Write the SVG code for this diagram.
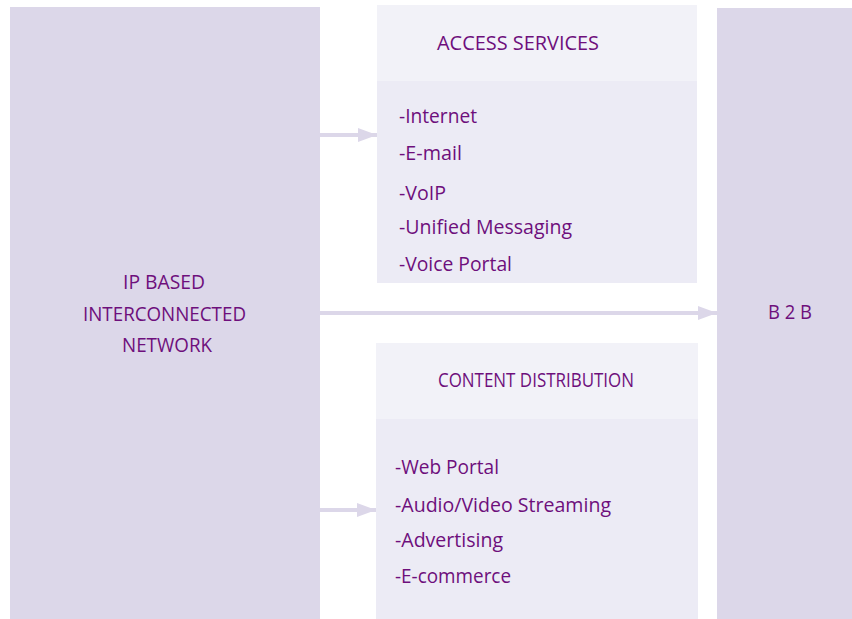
<svg xmlns="http://www.w3.org/2000/svg" width="852" height="619" viewBox="0 0 852 619">
<defs>
<style>
.big{fill:#dcd7e9}
.hdr{fill:#f2f2f8}
.body{fill:#ecebf5}
text{font-family:"Open Sans","Noto Sans","Liberation Sans",sans-serif;font-size:20px;font-weight:500;fill:#6e0f7c}
.conn line{stroke:#dcd7e9;stroke-width:4}
</style>
<marker id="ah" viewBox="0 0 19 14" refX="19" refY="7" markerWidth="19" markerHeight="14" markerUnits="userSpaceOnUse" orient="auto">
<path d="M0,0 L19,7 L0,14 Z" fill="#dcd7e9"/>
</marker>
</defs>
<rect width="852" height="619" fill="#ffffff"/>
<g id="ip-network">
<rect class="big" x="10" y="7" width="310" height="612"/>
<text x="123" y="289" textLength="82" lengthAdjust="spacingAndGlyphs">IP BASED</text>
<text x="83" y="321" textLength="163" lengthAdjust="spacingAndGlyphs">INTERCONNECTED</text>
<text x="122" y="352" textLength="90" lengthAdjust="spacingAndGlyphs">NETWORK</text>
</g>
<g id="access-services">
<rect class="hdr" x="377" y="5" width="320" height="76"/>
<rect class="body" x="377" y="81" width="320" height="202"/>
<text x="437" y="50" textLength="162" lengthAdjust="spacingAndGlyphs">ACCESS SERVICES</text>
<text x="399" y="123" textLength="78" lengthAdjust="spacingAndGlyphs">-Internet</text>
<text x="399" y="160" textLength="63" lengthAdjust="spacingAndGlyphs">-E-mail</text>
<text x="399" y="200" textLength="47" lengthAdjust="spacingAndGlyphs">-VoIP</text>
<text x="399" y="234" textLength="173" lengthAdjust="spacingAndGlyphs">-Unified Messaging</text>
<text x="399" y="271" textLength="113" lengthAdjust="spacingAndGlyphs">-Voice Portal</text>
</g>
<g id="content-distribution">
<rect class="hdr" x="376" y="343" width="322" height="76"/>
<rect class="body" x="376" y="419" width="322" height="200"/>
<text x="438" y="387" textLength="196" lengthAdjust="spacingAndGlyphs">CONTENT DISTRIBUTION</text>
<text x="395" y="474" textLength="104" lengthAdjust="spacingAndGlyphs">-Web Portal</text>
<text x="395" y="512" textLength="216" lengthAdjust="spacingAndGlyphs">-Audio/Video Streaming</text>
<text x="395" y="547" textLength="108" lengthAdjust="spacingAndGlyphs">-Advertising</text>
<text x="395" y="583" textLength="116" lengthAdjust="spacingAndGlyphs">-E-commerce</text>
</g>
<g id="b2b">
<rect class="big" x="717" y="8" width="135" height="611"/>
<text x="768" y="319" textLength="44" lengthAdjust="spacingAndGlyphs">B 2 B</text>
</g>
<g class="conn" id="connectors">
<line x1="320" y1="135" x2="377" y2="135" marker-end="url(#ah)"/>
<line x1="320" y1="313" x2="717" y2="313" marker-end="url(#ah)"/>
<line x1="320" y1="510" x2="376" y2="510" marker-end="url(#ah)"/>
</g>
</svg>
